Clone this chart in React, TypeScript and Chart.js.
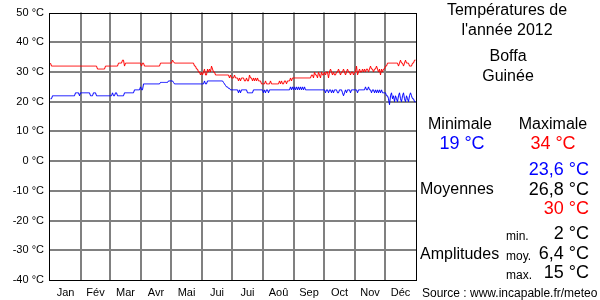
import React, { useEffect, useRef } from "react";
import { Chart, registerables } from "chart.js";

Chart.register(...registerables);

const MONTHS = ["Jan", "Fév", "Mar", "Avr", "Mai", "Jui", "Jui", "Aoû", "Sep", "Oct", "Nov", "Déc"];
const MONTH_DAYS = [31, 29, 31, 30, 31, 30, 31, 31, 30, 31, 30, 31];
const Y_TICKS = [-40, -30, -20, -10, 0, 10, 20, 30, 40, 50];

// Daily maxima (°C)
const maxJan = [33,32,32,32,32,32,32,32,32,32, 32,32,32,32,32,32,32,32,32,32, 32,32,32,32,32,32,32,32,32,32, 32];
const maxFeb = [32,32,32,32,32,32,32,32,32,32, 32,32,32,32,32,32,31,31,31,31, 31,31,31,31,32,32,32,32,32];
const maxMar = [32,32,32,32,32,32,32,32,33,33, 33,33,34,34,32,33,33,33,33,33, 33,33,33,33,33,33,33,33,33,33, 33];
const maxApr = [32,33,33,32,32,32,32,32,32,32, 32,32,32,32,32,32,32,32,32,33, 33,33,33,33,33,33,33,33,33,33];
const maxMay = [33,34,33.5,33,33,33,33,33,33,33, 33,33,33,33,33,33,33,33,33,33, 33,33,33,32,32,31,31,30,30,29, 30];
const maxJun = [29,30,31,29,29,31,30,31,30,32, 31,30,30,29,29,29,29,29,29,29, 29,29,29,29,29,29,29,28,29,28];
const maxJul = [28,28,29,28,28,28,27,28,27,28, 28,28,27,27,28,27,27,29,28,28, 27,28,27,28,27,28,27,27,27,26, 26];
const maxAug = [26,26,27,26,26,26,26,27,26,26, 26,26,26,26,26,26,27,26,27,26, 26,27,27,26,27,27,27,28,27,28, 28];
const maxSep = [28,28,28,28,28,28,28,28,28,28, 28,28,28,28,28,28,28,29,29,28, 30,29,29,28,30,29,28,30,29,29];
const maxOct = [30,29,30,30,28,30,31,30,29,30, 29,29,30,30,31,30,29,30,30,31, 30,29,30,31,30,30,29,30,30,29, 30];
const maxNov = [30,32,29,30,31,30,30,31,30,31, 30,31,31,30,31,32,31,31,30,31, 31,32,31,30,31,29,31,30,31,31];
const maxDec = [32,32,33,33,33,33,33,33,33,33, 33,33,33,32,33,34,33,33,32,33, 34,33,33,33,32,32,32,33,33,34, 34];

// Daily minima (°C)
const minJan = [21,21,22,22,22,22,22,22,22,22, 22,22,22,22,22,22,22,22,22,22, 22,22,22,22,22,23,23,23,23,22, 23];
const minFeb = [23,23,23,23,23,23,23,23,23,22, 22,22,23,23,23,22,22,22,22,22, 22,22,22,22,22,22,22,22,22];
const minMar = [22,22,23,22,22,23,23,22,22,22, 22,22,22,22,23,23,23,23,23,23, 23,23,23,23,24,24,24,24,24,24, 25];
const minApr = [24,24,26,26,26,26,26,26,26,26, 26,26,26,26,26,26,26,26,26,26.5, 26.5,26.5,26.5,26.5,26.5,26.5,26.5,27,27,27];
const minMay = [27,27,26.5,26,26,26,26,26,26,26, 26,26,26,26,26,26,26,26,26,26, 26,26,26,26,26,26,26,26,26,26, 26];
const minJun = [26,26,27,26,26,27,27,27,27,27, 27,27,27,27,27,27,27,27,27,27, 27,26.5,26,25.5,25,25,24.5,24.5,24,24];
const minJul = [24,24,24,24,24,24,23,24,23,24, 24,24,24,24,24,23,23,23,23,23, 23,24,24,24,24,24,24,24,24,24, 24];
const minAug = [23,24,23,24,24,23,24,24,24,24, 24,24,24,24,24,24,24,24,24,24, 24,24,24,24,24,24,24,25,24,25, 24];
const minSep = [25,24,25,24,25,24,25,24,25,24, 25,24,24,24,24,24,24,24,24,24, 24,24,24,24,24,24,24,24,24,24];
const minOct = [24,23,24,24,23,24,24,23,24,23, 24,24,24,23,23,24,24,24,23,22, 23,24,23,24,24,24,23,24,24,24, 24];
const minNov = [24,24,23,24,24,24,24,24,24,24, 25,24,24,25,24,24,23,24,24,23, 24,23,24,23,24,23,24,23,23,23];
const minDec = [23,22,22,21,19,22,23,21,22,20, 22,21,20,22,23,21,20,22,23,21, 20,22,21,20,22,23,22,21,21,20, 20];

const MAX_BY_MONTH = [maxJan, maxFeb, maxMar, maxApr, maxMay, maxJun, maxJul, maxAug, maxSep, maxOct, maxNov, maxDec];
const MIN_BY_MONTH = [minJan, minFeb, minMar, minApr, minMay, minJun, minJul, minAug, minSep, minOct, minNov, minDec];

const FONT = "'Liberation Sans', Arial, sans-serif";

function toPoints(months: number[][]) {
  const flat = months.flat();
  return flat.map((v, i) => ({ x: i + 0.5, y: v }));
}

const boundaries: number[] = [];
const mids: number[] = [];
{
  let acc = 0;
  MONTH_DAYS.forEach((d) => {
    mids.push(acc + d / 2);
    acc += d;
    boundaries.push(acc);
  });
}
const TOTAL_DAYS = MONTH_DAYS.reduce((a, b) => a + b, 0);

const borderPlugin = {
  id: "frameBorder",
  afterDatasetsDraw(chart: any) {
    const { ctx, chartArea } = chart;
    ctx.save();
    ctx.strokeStyle = "#000000";
    ctx.lineWidth = 1;
    ctx.strokeRect(
      Math.round(chartArea.left) - 0.5,
      Math.round(chartArea.top) + 0.5,
      Math.round(chartArea.right - chartArea.left) + 1,
      Math.round(chartArea.bottom - chartArea.top)
    );
    ctx.restore();
  },
};

type TxtProps = {
  text: string;
  x: number;
  baseline: number;
  size: number;
  align: "left" | "center" | "right";
  color?: string;
};

function Txt({ text, x, baseline, size, align, color = "#000" }: TxtProps) {
  const top = baseline - 0.8465 * size;
  const style: React.CSSProperties = {
    position: "absolute",
    top,
    fontFamily: FONT,
    fontSize: size,
    lineHeight: `${size}px`,
    color,
    whiteSpace: "nowrap",
  };
  if (align === "left") style.left = x;
  else if (align === "right") style.right = 600 - x;
  else {
    style.left = x;
    style.transform = "translateX(-50%)";
  }
  return <div style={style}>{text}</div>;
}

export default function App() {
  const canvasRef = useRef<HTMLCanvasElement | null>(null);

  useEffect(() => {
    document.body.style.margin = "0";
    const canvas = canvasRef.current;
    if (!canvas) return;
    const chart = new Chart(canvas, {
      type: "line",
      data: {
        datasets: [
          {
            label: "Maximale",
            data: toPoints(MAX_BY_MONTH),
            borderColor: "#ff0000",
            borderWidth: 1,
            pointRadius: 0,
            tension: 0,
            fill: false,
          },
          {
            label: "Minimale",
            data: toPoints(MIN_BY_MONTH),
            borderColor: "#0000ff",
            borderWidth: 1,
            pointRadius: 0,
            tension: 0,
            fill: false,
          },
        ],
      },
      options: {
        responsive: false,
        animation: false,
        devicePixelRatio: 1,
        layout: { padding: { left: 0, right: 184, top: 10, bottom: 0 } },
        plugins: { legend: { display: false }, tooltip: { enabled: false } },
        scales: {
          x: {
            type: "linear",
            min: 0,
            max: TOTAL_DAYS,
            border: { display: false },
            afterBuildTicks: (scale: any) => {
              const vals = [...boundaries.slice(0, -1), ...mids].sort((a, b) => a - b);
              scale.ticks = vals.map((v) => ({ value: v }));
            },
            afterFit: (scale: any) => {
              scale.height = 20;
            },
            grid: {
              drawTicks: false,
              lineWidth: 2,
              color: (ctx: any) => {
                const v = ctx.tick ? ctx.tick.value : null;
                return v !== null && boundaries.includes(v) ? "#808080" : "rgba(0,0,0,0)";
              },
            },
            ticks: {
              autoSkip: false,
              maxRotation: 0,
              padding: 6,
              color: "#000",
              font: { family: FONT, size: 11 },
              callback: (value: any) => {
                const idx = mids.indexOf(Number(value));
                return idx >= 0 ? MONTHS[idx] : "";
              },
            },
          },
          y: {
            type: "linear",
            min: Y_TICKS[0],
            max: Y_TICKS[Y_TICKS.length - 1],
            border: { display: false },
            afterBuildTicks: (scale: any) => {
              scale.ticks = Y_TICKS.map((v) => ({ value: v }));
            },
            afterFit: (scale: any) => {
              scale.width = 50;
            },
            grid: {
              drawTicks: false,
              lineWidth: 2,
              color: (ctx: any) => {
                const v = ctx.tick ? ctx.tick.value : null;
                return v === Y_TICKS[0] || v === Y_TICKS[Y_TICKS.length - 1] ? "rgba(0,0,0,0)" : "#808080";
              },
            },
            ticks: {
              padding: 6,
              color: "#000",
              font: { family: FONT, size: 11 },
              callback: (value: any) => `${value} °C`,
            },
          },
        },
      },
      plugins: [borderPlugin],
    });
    return () => chart.destroy();
  }, []);

  return (
    <div style={{ position: "absolute", left: 0, top: 0, width: 600, height: 300, background: "#fff" }}>
      <canvas ref={canvasRef} width={600} height={300} style={{ position: "absolute", left: 0, top: 0 }} />
      <Txt text="Températures de" x={507} baseline={16} size={16} align="center" />
      <Txt text="l'année 2012" x={507} baseline={36} size={16} align="center" />
      <Txt text="Boffa" x={508} baseline={62} size={16} align="center" />
      <Txt text="Guinée" x={508} baseline={82} size={16} align="center" />
      <Txt text="Minimale" x={460} baseline={130} size={16} align="center" />
      <Txt text="Maximale" x={553} baseline={130} size={16} align="center" />
      <Txt text="19 °C" x={462} baseline={149} size={18} align="center" color="#0000ff" />
      <Txt text="34 °C" x={553} baseline={149} size={18} align="center" color="#ff0000" />
      <Txt text="23,6 °C" x={589} baseline={175} size={18} align="right" color="#0000ff" />
      <Txt text="Moyennes" x={420} baseline={195} size={16} align="left" />
      <Txt text="26,8 °C" x={589} baseline={195} size={18} align="right" />
      <Txt text="30 °C" x={589} baseline={214} size={18} align="right" color="#ff0000" />
      <Txt text="min." x={506} baseline={240} size={12} align="left" />
      <Txt text="2 °C" x={589} baseline={239} size={18} align="right" />
      <Txt text="Amplitudes" x={420} baseline={260} size={16} align="left" />
      <Txt text="moy." x={506} baseline={260} size={12} align="left" />
      <Txt text="6,4 °C" x={589} baseline={259} size={18} align="right" />
      <Txt text="max." x={506} baseline={279} size={12} align="left" />
      <Txt text="15 °C" x={589} baseline={278} size={18} align="right" />
      <Txt text="Source : www.incapable.fr/meteo" x={422} baseline={297} size={12} align="left" />
    </div>
  );
}
